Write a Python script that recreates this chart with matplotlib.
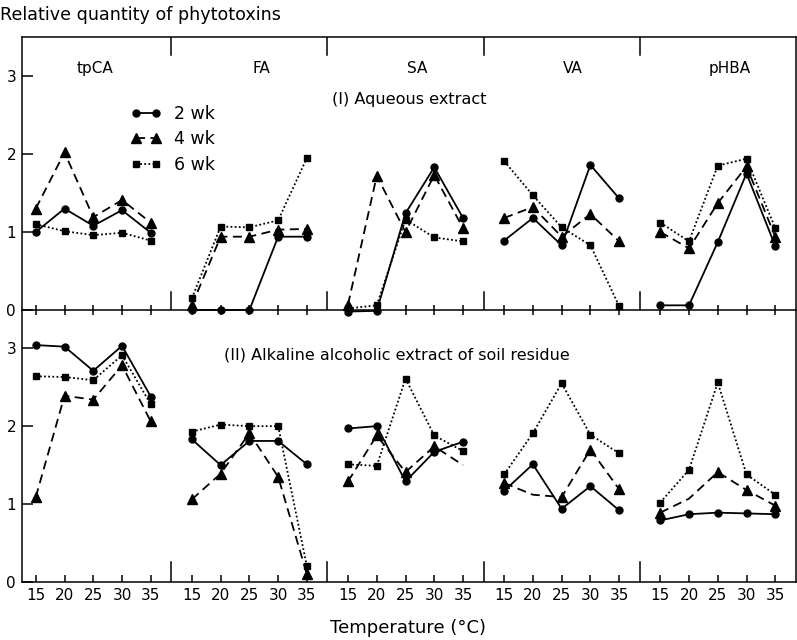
import matplotlib.pyplot as plt
from matplotlib.lines import Line2D

plt.rcParams['font.family'] = ['DejaVu Sans']

temps = [15, 20, 25, 30, 35]
acids = ["tpCA", "FA", "SA", "VA", "pHBA"]
weeks = ["2 wk", "4 wk", "6 wk"]

# (I) Aqueous extract -- one row per acid, columns = temps
aq_2wk = [[1.00, 1.30, 1.08, 1.28, 0.99],
          [0.00, 0.00, 0.00, 0.94, 0.94],
          [-0.02, -0.01, 1.24, 1.83, 1.18],
          [0.89, 1.18, 0.83, 1.86, 1.43],
          [0.06, 0.06, 0.87, 1.75, 0.82]]
aq_4wk = [[1.30, 2.02, 1.19, 1.41, 1.12],
          [0.06, 0.94, 0.94, 1.03, 1.04],
          [0.07, 1.72, 1.00, 1.73, 1.05],
          [1.18, 1.32, 0.94, 1.23, 0.88],
          [1.00, 0.79, 1.37, 1.84, 0.94]]
aq_6wk = [[1.10, 1.01, 0.96, 0.99, 0.89],
          [0.15, 1.07, 1.06, 1.15, 1.95],
          [0.02, 0.06, 1.16, 0.93, 0.88],
          [1.91, 1.47, 1.06, 0.83, 0.05],
          [1.12, 0.88, 1.85, 1.94, 1.05]]

# (II) Alkaline alcoholic extract of soil residue
alk_2wk = [[3.04, 3.02, 2.71, 3.03, 2.38],
           [1.83, 1.50, 1.81, 1.81, 1.51],
           [1.97, 2.00, 1.29, 1.67, 1.80],
           [1.17, 1.51, 0.94, 1.23, 0.92],
           [0.79, 0.87, 0.89, 0.88, 0.87]]
alk_4wk = [[1.09, 2.39, 2.34, 2.78, 2.06],
           [1.06, 1.39, 1.91, 1.35, 0.10],
           [1.29, 1.88, 1.41, 1.74, 1.50],
           [1.27, 1.12, 1.09, 1.70, 1.19],
           [0.89, 1.07, 1.41, 1.18, 0.98]]
alk_6wk = [[2.64, 2.63, 2.59, 2.91, 2.28],
           [1.93, 2.02, 2.00, 2.00, 0.20],
           [1.51, 1.49, 2.61, 1.88, 1.68],
           [1.38, 1.91, 2.55, 1.89, 1.65],
           [1.02, 1.44, 2.56, 1.38, 1.12]]

# points where the printed figure shows the line but no marker
alk_4wk_nomark = {2: [4], 3: [1], 4: [1]}

gap = 5.43
styles = {
    "2 wk": dict(ls='-', marker='o', ms=5),
    "4 wk": dict(ls=(0, (5, 3)), marker='^', ms=7),
    "6 wk": dict(ls=(0, (1, 1.3)), marker='s', ms=5),
}


def xpos(g):
    return [g * gap + (t - 15) / 5 for t in temps]


fig = plt.figure(figsize=(7.97, 6.40), dpi=100)
ax1 = fig.add_axes([0.0272, 0.5156, 0.9715, 0.4266])
ax2 = fig.add_axes([0.0272, 0.0906, 0.9715, 0.4250])
for ax in (ax1, ax2):
    ax.patch.set_visible(False)

panels = [(ax1, [aq_2wk, aq_4wk, aq_6wk], {}),
          (ax2, [alk_2wk, alk_4wk, alk_6wk], {"4 wk": alk_4wk_nomark})]

for ax, series, nomark in panels:
    for wk, data in zip(weeks, series):
        st = styles[wk]
        for g in range(len(acids)):
            skip = nomark.get(wk, {}).get(g, [])
            keep = [i for i in range(len(temps)) if i not in skip]
            ax.plot(xpos(g), data[g], color='black', lw=1.3, ls=st['ls'],
                    marker=st['marker'], ms=st['ms'], markevery=keep,
                    clip_on=False, zorder=3)
    ax.set_xlim(-0.49, 26.44)
    ax.set_yticks([0, 1, 2, 3])
    ax.tick_params(axis='y', direction='in', length=8, width=1.1,
                   labelsize=11, pad=4)
    for s in ax.spines.values():
        s.set_linewidth(1.1)
ax1.set_ylim(0, 3.5)
ax2.set_ylim(0, 3.49)

xt = [x for g in range(len(acids)) for x in xpos(g)]
for ax in (ax1, ax2):
    ax.set_xticks(xt)
ax1.tick_params(axis='x', direction='inout', length=7, width=1.1,
                labelbottom=False)
ax2.tick_params(axis='x', direction='in', length=5, width=1.1, labelsize=11,
                pad=4)
ax2.set_xticklabels([str(t) for _ in acids for t in temps])
ax2.spines['top'].set_visible(False)

# group separators
for g in range(1, len(acids)):
    xs = g * gap - (gap - 4) / 2
    ax1.axvline(xs, ymin=0, ymax=0.065, color='black', lw=1.1)
    ax1.axvline(xs, ymin=0.935, ymax=1, color='black', lw=1.1)
    ax2.axvline(xs, ymin=0, ymax=0.075, color='black', lw=1.1)

for g, name in enumerate(acids):
    ax1.text(g * gap + 2 + (0.06 if g == 0 else 0.4), 0.883, name,
             transform=ax1.get_xaxis_transform(), ha='center', va='center',
             fontsize=11)

ax1.text(0.5, 0.77, "(I) Aqueous extract", transform=ax1.transAxes,
         ha='center', va='center', fontsize=11.6)
ax2.text(0.485, 0.835, "(II) Alkaline alcoholic extract of soil residue",
         transform=ax2.transAxes, ha='center', va='center', fontsize=11.5)

handles = [Line2D([], [], color='black', lw=1.3, ls=styles[w]['ls'],
                  marker=styles[w]['marker'], ms=styles[w]['ms']) for w in weeks]
ax1.legend(handles, weeks, loc='upper left', bbox_to_anchor=(0.13, 0.784),
           frameon=False, numpoints=2, handlelength=1.75, handletextpad=0.7,
           labelspacing=0.45, borderpad=0, fontsize=12.5)

fig.text(0.0, 0.976, "Relative quantity of phytotoxins", ha='left',
         va='center', fontsize=12.6)
fig.text(0.512, 0.019, "Temperature (\u00b0C)", ha='center', va='center',
         fontsize=13)

fig.savefig("out.png", dpi=100)
